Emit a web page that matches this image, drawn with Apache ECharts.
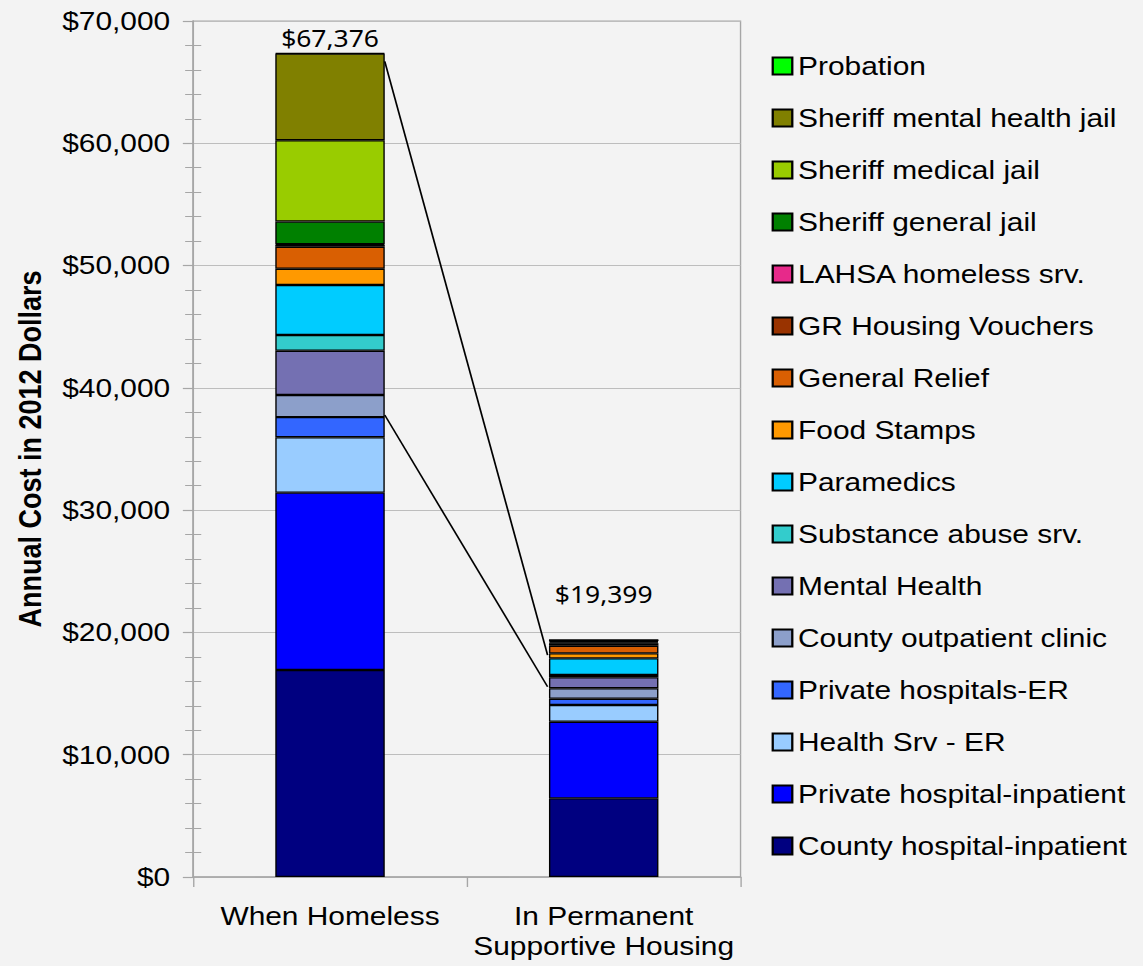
<!DOCTYPE html>
<html>
<head>
<meta charset="utf-8">
<script src="https://cdn.jsdelivr.net/npm/echarts@6/dist/echarts.min.js"></script>
<style>
html, body { margin: 0; padding: 0; background: #f3f3f3; overflow: hidden; }
#wrap { width: 1143px; height: 966px; overflow: hidden; }
#chart { width: 994px; height: 966px; transform: scaleX(1.1499); transform-origin: 0 0; }
</style>
</head>
<body>
<div id="wrap"><div id="chart"></div></div>
<script>
// ---- data (annual cost in 2012 dollars) ----
const categories = ['When Homeless', 'In Permanent\nSupportive Housing'];

const countyHospitalInpatient  = [16930, 6430];
const privateHospitalInpatient = [14500, 6270];
const healthSrvER              = [4530, 1360];
const privateHospitalsER       = [1650, 520];
const countyOutpatientClinic   = [1800, 850];
const mentalHealth             = [3630, 900];
const substanceAbuseSrv        = [1280, 190];
const paramedics               = [4090, 1360];
const foodStamps               = [1330, 410];
const generalRelief            = [1800, 620];
const grHousingVouchers        = [150, 200];
const lahsaHomelessSrv         = [50, 50];
const sheriffGeneralJail       = [1860, 80];
const sheriffMedicalJail       = [6650, 50];
const sheriffMentalHealthJail  = [7080, 100];
const probation                = [46, 9];

const totals = [67376, 19399];

// connector lines: [category position, value]
const connectorUpper = [[0.70, 66700], [1.295, 18150]];
const connectorLower = [[0.70, 37780], [1.295, 15560]];

const yMin = 0, yMax = 70000, yInterval = 10000;

// ---- build ----
const seriesDefs = [
  ['County hospital-inpatient', countyHospitalInpatient, '#000080'],
  ['Private hospital-inpatient', privateHospitalInpatient, '#0000ff'],
  ['Health Srv - ER', healthSrvER, '#99ccff'],
  ['Private hospitals-ER', privateHospitalsER, '#3366ff'],
  ['County outpatient clinic', countyOutpatientClinic, '#8c9fca'],
  ['Mental Health', mentalHealth, '#7470b2'],
  ['Substance abuse srv.', substanceAbuseSrv, '#33cccc'],
  ['Paramedics', paramedics, '#00ccff'],
  ['Food Stamps', foodStamps, '#ff9900'],
  ['General Relief', generalRelief, '#d95f02'],
  ['GR Housing Vouchers', grHousingVouchers, '#993300'],
  ['LAHSA homeless srv.', lahsaHomelessSrv, '#e7298a'],
  ['Sheriff general jail', sheriffGeneralJail, '#008000'],
  ['Sheriff medical jail', sheriffMedicalJail, '#99cc00'],
  ['Sheriff mental health jail', sheriffMentalHealthJail, '#808000'],
  ['Probation', probation, '#00ff00']
];

const FONT = '"Liberation Sans", Arial, sans-serif';

const series = seriesDefs.map(([name, values, color], idx) => {
  const s = {
    name: name,
    type: 'bar',
    stack: 'total',
    barWidth: '40%',
    xAxisIndex: 0,
    yAxisIndex: 0,
    data: values.slice(),
    itemStyle: { color: color, borderColor: '#000000', borderWidth: 1.2 },
    emphasis: { disabled: true },
    silent: true
  };
  if (idx === seriesDefs.length - 1) {
    s.data = values.map((v, i) => i === 1
      ? { value: v, label: { offset: [0, -31] } }
      : { value: v });
    s.label = {
      show: true,
      position: 'top',
      distance: 3,
      fontFamily: '"Noto Sans", "Open Sans", sans-serif',
      fontSize: 23,
      color: '#000000',
      formatter: p => '$' + totals[p.dataIndex].toLocaleString('en-US')
    };
  }
  return s;
});

[connectorUpper, connectorLower].forEach((pts, i) => {
  series.push({
    name: 'connector' + i,
    type: 'line',
    xAxisIndex: 1,
    yAxisIndex: 0,
    data: pts,
    symbol: 'none',
    silent: true,
    lineStyle: { color: '#000000', width: 1.5 },
    z: 5
  });
});

const chart = echarts.init(document.getElementById('chart'), null, { renderer: 'svg' });
chart.setOption({
  backgroundColor: '#f3f3f3',
  animation: false,
  grid: {
    left: 168, right: 350, top: 21, bottom: 89,
    show: true, borderColor: '#a6a6a6', borderWidth: 1.2,
    backgroundColor: 'transparent'
  },
  legend: {
    orient: 'vertical',
    left: 671,
    top: 53,
    padding: 0,
    itemWidth: 17,
    itemHeight: 17,
    itemGap: 26,
    icon: 'rect',
    selectedMode: false,
    data: seriesDefs.map(d => d[0]).reverse(),
    textStyle: { fontFamily: FONT, fontSize: 26, lineHeight: 26, color: '#000000' }
  },
  xAxis: [
    {
      type: 'category',
      data: categories,
      axisLine: { lineStyle: { color: '#a6a6a6', width: 1.5 } },
      axisTick: { show: true, interval: 0, length: 10, lineStyle: { color: '#a6a6a6', width: 1.2 } },
      axisLabel: { fontFamily: FONT, fontSize: 26, lineHeight: 30, color: '#000000', margin: 24, interval: 0 },
      splitLine: { show: false }
    },
    {
      type: 'value',
      min: 0, max: 2,
      show: false
    }
  ],
  yAxis: [
    {
      type: 'value',
      min: yMin, max: yMax, interval: yInterval,
      name: 'Annual Cost in 2012 Dollars',
      nameLocation: 'middle',
      nameGap: 128,
      nameTextStyle: { fontFamily: FONT, fontSize: 27, fontWeight: 'bold', color: '#000000' },
      axisLine: { show: true, lineStyle: { color: '#a6a6a6', width: 1.5 } },
      axisTick: { show: true, length: 9, lineStyle: { color: '#a6a6a6', width: 1.2 } },
      minorTick: { show: true, splitNumber: 5, length: 7, lineStyle: { color: '#a6a6a6', width: 1 } },
      axisLabel: {
        fontFamily: FONT, fontSize: 26, color: '#000000', margin: 20,
        formatter: v => '$' + v.toLocaleString('en-US')
      },
      splitLine: { show: true, lineStyle: { color: '#bdbdbd', width: 1.2 } }
    },
    {
      type: 'value',
      min: yMin, max: yMax, interval: yInterval,
      position: 'left',
      offset: 0,
      axisLine: { show: false },
      axisTick: { show: false, inside: true },
      minorTick: { show: true, splitNumber: 5, length: 7, lineStyle: { color: '#a6a6a6', width: 1 } },
      axisLabel: { show: false },
      splitLine: { show: false }
    }
  ],
  series: series
});
</script>
</body>
</html>
